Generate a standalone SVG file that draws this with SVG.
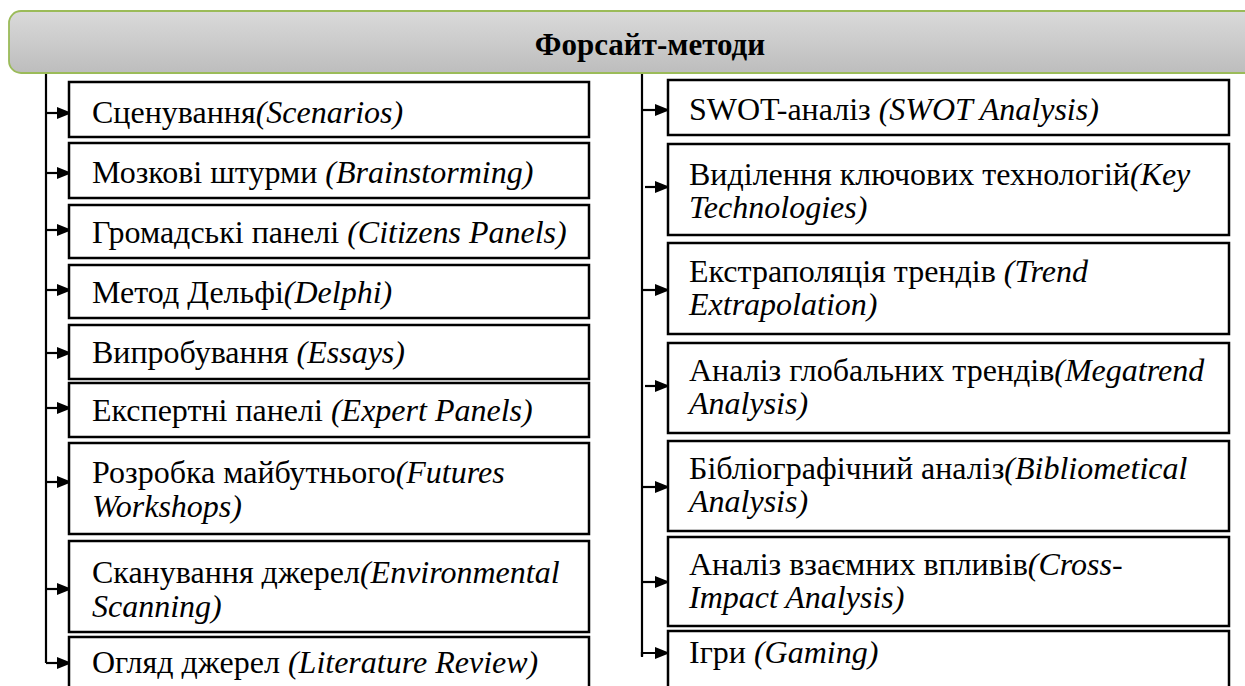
<svg xmlns="http://www.w3.org/2000/svg" width="1245" height="686" viewBox="0 0 1245 686">
<defs>
<linearGradient id="hg" x1="0" y1="0" x2="0" y2="1">
<stop offset="0" stop-color="#dadada"/>
<stop offset="1" stop-color="#bdbdbd"/>
</linearGradient>
<marker id="ah" markerUnits="userSpaceOnUse" markerWidth="16" markerHeight="14" refX="15" refY="7" orient="auto">
<path d="M0,1 L15,7 L0,13 Z" fill="#000"/>
</marker>
</defs>
<style>
.box{fill:#fff;stroke:#000;stroke-width:2.5}
.t{font-family:'Liberation Serif','DejaVu Serif','Noto Serif',serif;font-size:32px;fill:#000}
.h{font-size:31px;font-weight:bold}
.i{font-style:italic}
.c{fill:none;stroke:#000;stroke-width:2.2}
</style>
<rect width="1245" height="686" fill="#fff"/>
<g id="header">
<rect x="9" y="11" width="1260" height="62" rx="12" ry="12" fill="url(#hg)" stroke="#9bbb59" stroke-width="1.8"/>
<text x="650" y="55" text-anchor="middle" class="t h">Форсайт-методи</text>
</g>
<g id="connectors">
<path class="c" d="M46,74 V663"/>
<path class="c" d="M642,74 V657"/>
<path class="c" d="M46,113 H72" marker-end="url(#ah)"/>
<path class="c" d="M46,173 H72" marker-end="url(#ah)"/>
<path class="c" d="M46,230 H72" marker-end="url(#ah)"/>
<path class="c" d="M46,290 H72" marker-end="url(#ah)"/>
<path class="c" d="M46,353 H72" marker-end="url(#ah)"/>
<path class="c" d="M46,408 H72" marker-end="url(#ah)"/>
<path class="c" d="M46,482 H72" marker-end="url(#ah)"/>
<path class="c" d="M46,589 H72" marker-end="url(#ah)"/>
<path class="c" d="M46,663 H72" marker-end="url(#ah)"/>
<path class="c" d="M642,110 H670" marker-end="url(#ah)"/>
<path class="c" d="M645,187 H670" marker-end="url(#ah)"/>
<path class="c" d="M642,290 H670" marker-end="url(#ah)"/>
<path class="c" d="M645,386 H670" marker-end="url(#ah)"/>
<path class="c" d="M642,487 H670" marker-end="url(#ah)"/>
<path class="c" d="M642,582 H670" marker-end="url(#ah)"/>
<path class="c" d="M642,656 V653 H670" marker-end="url(#ah)"/>
</g>
<g id="l1"><rect class="box" x="69" y="82" width="520" height="55"/><text class="t" x="92" y="123">Сценування<tspan class="i">(Scenarios)</tspan></text></g>
<g id="l2"><rect class="box" x="69" y="143" width="520" height="55"/><text class="t" x="92" y="183">Мозкові штурми <tspan class="i">(Brainstorming)</tspan></text></g>
<g id="l3"><rect class="box" x="69" y="205" width="520" height="53"/><text class="t" x="92" y="243">Громадські панелі <tspan class="i">(Citizens Panels)</tspan></text></g>
<g id="l4"><rect class="box" x="69" y="265" width="520" height="53"/><text class="t" x="92" y="303">Метод Дельфі<tspan class="i">(Delphi)</tspan></text></g>
<g id="l5"><rect class="box" x="69" y="325" width="520" height="54"/><text class="t" x="92" y="363">Випробування <tspan class="i">(Essays)</tspan></text></g>
<g id="l6"><rect class="box" x="69" y="383" width="520" height="54"/><text class="t" x="92" y="421">Експертні панелі <tspan class="i">(Expert Panels)</tspan></text></g>
<g id="l7"><rect class="box" x="69" y="443" width="520" height="91"/><text class="t" x="92" y="483">Розробка майбутнього<tspan class="i">(Futures</tspan></text><text class="t i" x="92" y="517">Workshops)</text></g>
<g id="l8"><rect class="box" x="69" y="541" width="520" height="91"/><text class="t" x="92" y="583">Сканування джерел<tspan class="i">(Environmental</tspan></text><text class="t i" x="92" y="617">Scanning)</text></g>
<g id="l9"><rect class="box" x="69" y="637" width="520" height="70"/><text class="t" x="92" y="673">Огляд джерел <tspan class="i">(Literature Review)</tspan></text></g>
<g id="r1"><rect class="box" x="668" y="80" width="561" height="55"/><text class="t" x="689" y="120">SWOT-аналіз <tspan class="i">(SWOT Analysis)</tspan></text></g>
<g id="r2"><rect class="box" x="668" y="144" width="561" height="91"/><text class="t" x="689" y="185">Виділення ключових технологій<tspan class="i">(Key</tspan></text><text class="t i" x="689" y="218">Technologies)</text></g>
<g id="r3"><rect class="box" x="668" y="243" width="561" height="91"/><text class="t" x="689" y="282">Екстраполяція трендів <tspan class="i">(Trend</tspan></text><text class="t i" x="689" y="315">Extrapolation)</text></g>
<g id="r4"><rect class="box" x="668" y="343" width="561" height="90"/><text class="t" x="689" y="381">Аналіз глобальних трендів<tspan class="i">(Megatrend</tspan></text><text class="t i" x="689" y="414">Analysis)</text></g>
<g id="r5"><rect class="box" x="668" y="441" width="561" height="90"/><text class="t" x="689" y="479">Бібліографічний аналіз<tspan class="i">(Bibliometical</tspan></text><text class="t i" x="689" y="512">Analysis)</text></g>
<g id="r6"><rect class="box" x="668" y="537" width="561" height="89"/><text class="t" x="689" y="575">Аналіз взаємних впливів<tspan class="i">(Cross-</tspan></text><text class="t i" x="689" y="608">Impact Analysis)</text></g>
<g id="r7"><rect class="box" x="668" y="631" width="561" height="76"/><text class="t" x="689" y="663">Ігри <tspan class="i">(Gaming)</tspan></text></g>
</svg>
